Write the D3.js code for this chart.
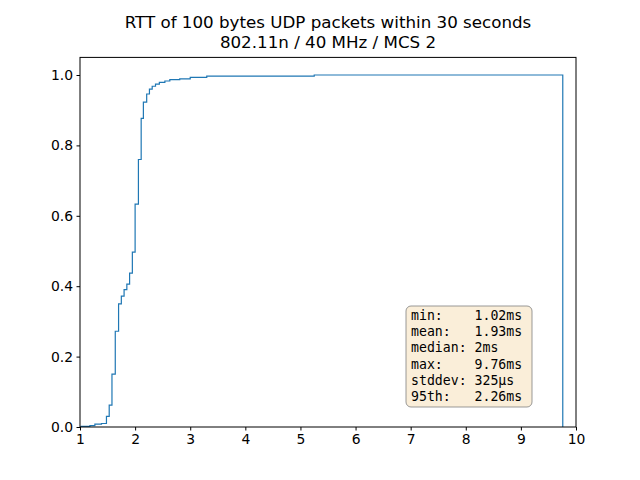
<!DOCTYPE html>
<html><head><meta charset="utf-8">
<script src="https://cdn.jsdelivr.net/npm/d3@7"></script>
<style>body{margin:0;background:#fff}</style></head>
<body><svg id="c" width="640" height="480"></svg>
<script>
const edges = [1.02,1.18,1.27,1.39,1.48,1.53,1.58,1.64,1.70,1.75,1.80,1.85,1.90,1.95,2.00,2.06,2.11,2.15,2.21,2.26,2.31,2.37,2.44,2.54,2.63,2.81,3.0,3.3,5.25,9.76];
const cdf = [0.002,0.004,0.008,0.01,0.03,0.062,0.15,0.272,0.35,0.372,0.39,0.406,0.437,0.497,0.633,0.76,0.877,0.923,0.946,0.960,0.968,0.974,0.979,0.983,0.987,0.989,0.993,0.997,1.0];
const xTicks = [1,2,3,4,5,6,7,8,9,10];
const yTicks = [0,0.2,0.4,0.6,0.8,1.0];
const titleLines = ["RTT of 100 bytes UDP packets within 30 seconds","802.11n / 40 MHz / MCS 2"];
const stats = ["min:    1.02ms","mean:   1.93ms","median: 2ms","max:    9.76ms","stddev: 325µs","95th:   2.26ms"];

const svg = d3.select("#c");
const L=80,R=576,T=57.4,B=427;
const x = d3.scaleLinear().domain([1,10]).range([L,R]);
const y = d3.scaleLinear().domain([0,1.05]).range([B,T]);

// step path
const pts=[[edges[0],0]];
for(let i=0;i<cdf.length;i++){pts.push([edges[i],cdf[i]]);pts.push([edges[i+1],cdf[i]]);}
pts.push([edges[edges.length-1],0]);
svg.append("path").attr("d",d3.line().x(d=>x(d[0])).y(d=>y(d[1]))(pts))
  .attr("fill","none").attr("stroke","#1f77b4").attr("stroke-width",1.2);

const fx=svg.append("g").attr("transform",`translate(0,${B})`)
  .call(d3.axisBottom(x).tickValues(xTicks).tickFormat(d3.format("d")).tickSizeOuter(0).tickSize(3.5).tickPadding(3.5));
const fy=svg.append("g").attr("transform",`translate(${L},0)`)
  .call(d3.axisLeft(y).tickValues(yTicks).tickFormat(d3.format(".1f")).tickSizeOuter(0).tickSize(3.5).tickPadding(3.5));
[fx,fy].forEach(g=>{g.select(".domain").remove();g.selectAll("text").attr("font-size",13.9).attr("font-family","DejaVu Sans").attr("fill","#000");g.selectAll("line").attr("stroke","#000");});
svg.append("rect").attr("x",L).attr("y",T).attr("width",R-L).attr("height",B-T).attr("fill","none").attr("stroke","#000").attr("stroke-width",1);

titleLines.forEach((t,i)=>svg.append("text").attr("x",(L+R)/2).attr("y",28+i*20).attr("text-anchor","middle")
  .attr("font-family","DejaVu Sans").attr("font-size",16.7).text(t));

svg.append("rect").attr("x",406).attr("y",306).attr("width",126).attr("height",101).attr("rx",5)
  .attr("fill","#f5deb3").attr("fill-opacity",0.5).attr("stroke","#7f7f7f").attr("stroke-opacity",0.8);
stats.forEach((s,i)=>svg.append("text").attr("x",411).attr("y",320+i*16.2).attr("xml:space","preserve")
  .style("white-space","pre").attr("font-family","DejaVu Sans Mono").attr("font-size",13.2).text(s));
</script></body></html>
